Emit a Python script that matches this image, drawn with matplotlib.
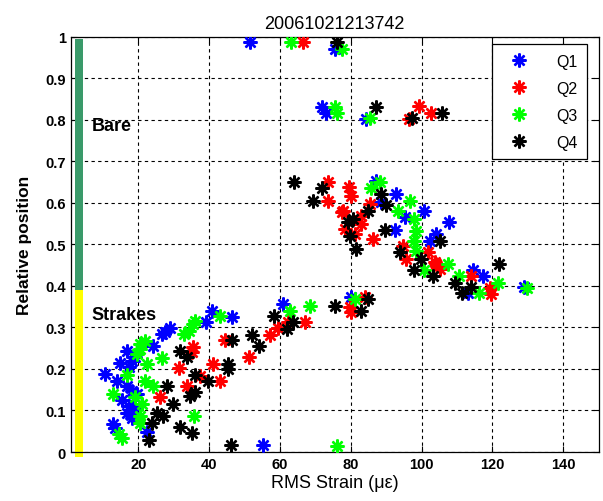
import matplotlib
matplotlib.use('Agg')
import matplotlib.pyplot as plt

plt.rcParams['font.family'] = ['Liberation Sans', 'DejaVu Sans']

# ===== DATA =====
title = "20061021213742"
series_names = ["Q1", "Q2", "Q3", "Q4"]
series_colors = ["#0000ff", "#ff0000", "#00ff00", "#000000"]

q1_x = [51.6, 75.5, 71.9, 72.9, 84.2, 87.2, 92.9, 88.6, 100.6, 95.2, 107.7, 92.4, 102.3, 104.1,
        114.5, 117.3, 113.0, 129.0, 80.2, 60.9, 40.8, 39.2, 46.4, 29.0, 27.6, 26.7, 24.3, 16.8,
        19.2, 18.2, 14.9, 17.3, 10.7, 14.0, 16.8, 18.2, 19.6, 15.4, 17.3, 18.7, 16.8, 18.2, 13.0,
        13.5, 22.4, 55.3]
q1_y = [0.986, 0.970, 0.831, 0.815, 0.801, 0.653, 0.621, 0.601, 0.581, 0.565, 0.553, 0.535, 0.509,
        0.525, 0.438, 0.424, 0.384, 0.397, 0.372, 0.356, 0.340, 0.312, 0.326, 0.298, 0.290, 0.284,
        0.256, 0.244, 0.228, 0.220, 0.214, 0.204, 0.187, 0.172, 0.160, 0.148, 0.140, 0.126, 0.111,
        0.103, 0.094, 0.083, 0.067, 0.057, 0.047, 0.017]

q2_x = [66.6, 99.2, 96.4, 102.7, 73.6, 73.6, 79.5, 80.0, 77.4, 85.4, 77.8, 83.0, 83.0, 78.3, 81.1,
        86.3, 94.7, 95.7, 101.8, 103.7, 105.1, 104.1, 114.0, 119.2, 119.6, 83.9, 79.7, 80.2, 67.0,
        62.3, 59.5, 57.2, 51.4, 44.5, 41.2, 43.1, 35.6, 35.1, 31.4, 33.7, 26.2, 37.5]
q2_y = [0.986, 0.832, 0.801, 0.815, 0.649, 0.605, 0.637, 0.617, 0.578, 0.597, 0.581, 0.569, 0.549,
        0.537, 0.525, 0.513, 0.497, 0.465, 0.481, 0.457, 0.440, 0.452, 0.424, 0.394, 0.380, 0.372,
        0.348, 0.336, 0.312, 0.312, 0.298, 0.282, 0.228, 0.270, 0.212, 0.172, 0.254, 0.240, 0.202,
        0.160, 0.132, 0.184]

q3_x = [63.1, 77.4, 75.5, 76.0, 85.4, 85.8, 88.2, 96.7, 93.3, 98.0, 98.5, 98.0, 98.5, 100.8, 107.4,
        110.7, 116.2, 121.5, 129.9, 81.1, 68.5, 62.8, 43.1, 36.1, 35.6, 34.2, 32.8, 22.0, 20.6, 20.6,
        19.6, 26.7, 22.4, 16.8, 22.0, 24.3, 12.8, 19.2, 21.0, 20.6, 20.6, 14.5, 15.4, 35.8, 76.0]
q3_y = [0.986, 0.970, 0.831, 0.815, 0.803, 0.635, 0.649, 0.605, 0.581, 0.562, 0.533, 0.509, 0.485,
        0.438, 0.452, 0.424, 0.384, 0.408, 0.396, 0.368, 0.352, 0.340, 0.328, 0.316, 0.308, 0.292,
        0.284, 0.268, 0.260, 0.248, 0.236, 0.226, 0.212, 0.186, 0.172, 0.160, 0.140, 0.132, 0.116,
        0.087, 0.071, 0.043, 0.033, 0.087, 0.015]

q4_x = [76.1, 87.2, 97.4, 105.7, 63.9, 71.9, 69.4, 80.7, 88.6, 90.1, 84.8, 79.2, 79.7, 81.4, 89.6,
        93.8, 99.9, 97.8, 103.2, 105.3, 109.5, 114.0, 111.4, 122.0, 84.9, 83.0, 75.5, 63.7, 61.9,
        58.4, 54.0, 52.0, 46.4, 45.4, 45.4, 39.8, 36.1, 31.8, 33.7, 28.1, 29.7, 34.6, 36.1, 27.1,
        25.3, 23.9, 22.9, 31.8, 35.1, 46.2]
q4_y = [0.988, 0.831, 0.803, 0.815, 0.649, 0.635, 0.605, 0.562, 0.621, 0.595, 0.581, 0.553, 0.521,
        0.489, 0.535, 0.481, 0.465, 0.438, 0.424, 0.509, 0.408, 0.398, 0.384, 0.452, 0.368, 0.340,
        0.352, 0.312, 0.296, 0.328, 0.256, 0.282, 0.270, 0.212, 0.200, 0.172, 0.186, 0.244, 0.228,
        0.158, 0.116, 0.136, 0.144, 0.087, 0.094, 0.071, 0.029, 0.061, 0.045, 0.017]

xs = [q1_x, q2_x, q3_x, q4_x]
ys = [q1_y, q2_y, q3_y, q4_y]

# zone bars: (label, bottom, top, colour)
zones = [("Bare", 0.391, 0.994, "#3a9a6a"), ("Strakes", -0.012, 0.391, "#ffff00")]
zone_label_y = [0.787, 0.332]

x_ticks = [20, 40, 60, 80, 100, 120, 140]
y_ticks = [0, 0.1, 0.2, 0.3, 0.4, 0.5, 0.6, 0.7, 0.8, 0.9, 1]
y_ticklabels = ["0", "0.1", "0.2", "0.3", "0.4", "0.5", "0.6", "0.7", "0.8", "0.9", "1"]

# ===== PLOT =====
fig = plt.figure(figsize=(6.03, 5.02), dpi=100)
ax = fig.add_axes([0.1177, 0.0976, 0.875, 0.8274])

for (name, lo, hi, col), ly in zip(zones, zone_label_y):
    ax.bar(3.3, hi - lo, width=2.2, bottom=lo, color=col, clip_on=False, zorder=1)
    ax.text(6.8, ly, name, fontsize=13, fontweight='bold', va='center', ha='left', zorder=4)

# MATLAB-style '*' marker: plus and cross drawn with thick lines
for x, y, c, n in zip(xs, ys, series_colors, series_names):
    ax.plot(x, y, ls='none', marker=(8, 2, 0), ms=10, mew=1.7, color=c, label=n, zorder=3)

ax.set_xlim(1, 150)
ax.set_ylim(0, 1)
ax.set_xticks(x_ticks)
ax.set_yticks(y_ticks)
ax.set_yticklabels(y_ticklabels)
for lab in ax.get_xticklabels() + ax.get_yticklabels():
    lab.set_fontweight('bold')
    lab.set_fontsize(10.5)
ax.tick_params(direction='in', top=True, right=True, length=4, width=0.8)
ax.grid(True, color='black', ls=(0, (3, 3)), lw=0.8)
ax.set_axisbelow(True)
for s in ax.spines.values():
    s.set_linewidth(0.9)

ax.set_title(title, fontsize=13, pad=6)
ax.set_xlabel("RMS Strain (\u03bc\u03b5)", fontsize=13, labelpad=2)
ax.set_ylabel("Relative position", fontsize=12.5, fontweight='bold', labelpad=10)

leg = ax.legend(loc='upper right', bbox_to_anchor=(0.978, 0.982), fontsize=11.5,
                fancybox=False, edgecolor='black', framealpha=1, handlelength=2.2,
                handletextpad=1.2, labelspacing=0.75, borderpad=0.6, borderaxespad=0)
leg.get_frame().set_linewidth(0.9)

plt.savefig('out.png', dpi=100)
plt.close()
